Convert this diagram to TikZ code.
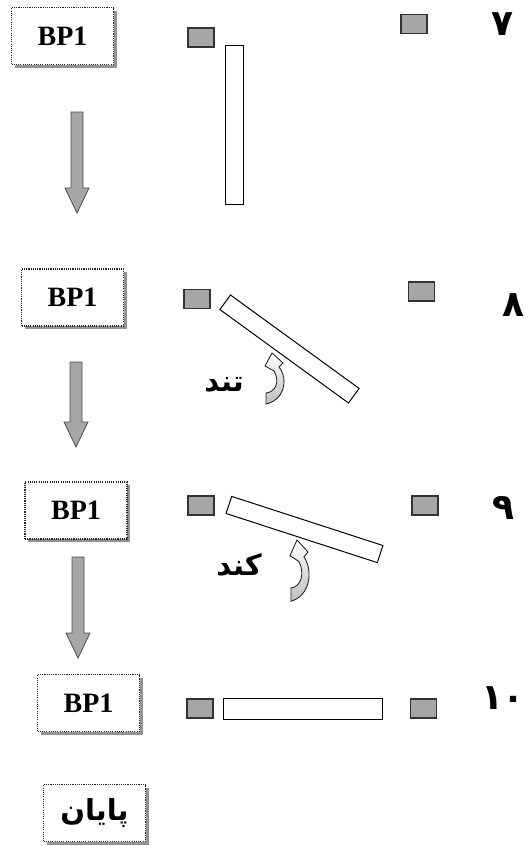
\documentclass[tikz,border=0pt]{standalone}
\usepackage{fontspec}
\setmainfont{Liberation Serif}
\newfontfamily\arabicfont[Script=Arabic]{DejaVu Sans}
\TeXXeTstate=1
\usetikzlibrary{shadows}

\tikzset{
    pics/droparrow/.style={code={
        \draw[black!70, fill=gray!70, line width=0.8pt] (-6,0) -- (6,0) -- (6,#1-25) -- (12,#1-25)
            -- (0,#1) -- (-12,#1-25) -- (-6,#1-25) -- cycle;
    }},
    pics/turnarrow/.style={code={
        \draw[black!85, line width=0.9pt, top color=white, bottom color=gray!50]
            (-6,51) -- (-6,40) .. controls (4,39) and (8,28) .. (2,18) -- (-7,13) -- (0,0)
            -- (11,10) -- (7,14) .. controls (17,27) and (12,47) .. (-6,51) -- cycle;
    }}
}

\begin{document}
\begin{tikzpicture}[x=1pt, y=-1pt,
        box/.style={draw=black!85, line width=1.2pt, dash pattern=on 1.1pt off 1.1pt, fill=white,
            minimum width=102pt, minimum height=57pt, inner sep=0pt,
            drop shadow={shadow xshift=3pt, shadow yshift=-3pt, fill=gray!85, opacity=1},
            font=\fontsize{28}{30}\selectfont\bfseries},
        pad/.style={draw=black!80, line width=1.3pt, fill=gray!70, minimum width=26pt, minimum height=19pt, inner sep=0pt},
        bar/.style={draw=black, line width=1pt, fill=white, minimum width=159pt, minimum height=18pt, inner sep=0pt},
        num/.style={font=\arabicfont\bfseries\fontsize{36}{40}\selectfont, inner sep=0pt},
        speed/.style={font=\arabicfont\bfseries\fontsize{29}{32}\selectfont, inner sep=0pt}]

\useasboundingbox (0,0) rectangle (531,846);

\node[box] (b7) at (62.5,36) {BP1};
\node[pad] (p7l) at (201,37.5) {};
\node[bar, rotate=90] (r7) at (234.5,124.5) {};
\node[pad] (p7r) at (414,24) {};
\node[num] (n7) at (502,24) {۷};

\pic at (77,112) {droparrow=101};

\node[box] (b8) at (72.5,297.5) {BP1};
\node[pad] (p8l) at (197,299) {};
\node[bar, rotate=-36] (r8) at (289.5,349) {};
\node[pad] (p8r) at (421.5,291.5) {};
\node[num] (n8) at (513,305) {۸};
\node[speed] (s8) at (224,385) {\beginR تند\endR};
\pic at (272,353) {turnarrow};

\pic at (76,362) {droparrow=85};

\node[box] (b9) at (76,510.5) {BP1};
\node[pad] (p9l) at (201,505.5) {};
\node[bar, rotate=-18] (r9) at (304.5,529.5) {};
\node[pad] (p9r) at (425,505.5) {};
\node[num] (n9) at (503,508) {۹};
\node[speed] (s9) at (239,565) {\beginR کند\endR};
\pic[yscale=1.2] at (297,540) {turnarrow};

\pic at (78,557) {droparrow=101};

\node[box] (b10) at (88.5,703) {BP1};
\node[pad] (p10l) at (200,708.5) {};
\node[bar, minimum height=21pt] (r10) at (302.5,708.5) {};
\node[pad] (p10r) at (423.5,708.5) {};
\node[num] (n10) at (503,698) {۱۰};

\node[box, font=\arabicfont\bfseries\fontsize{29}{32}\selectfont] (end) at (94.5,813) {\beginR پایان\endR};
\end{tikzpicture}
\end{document}
